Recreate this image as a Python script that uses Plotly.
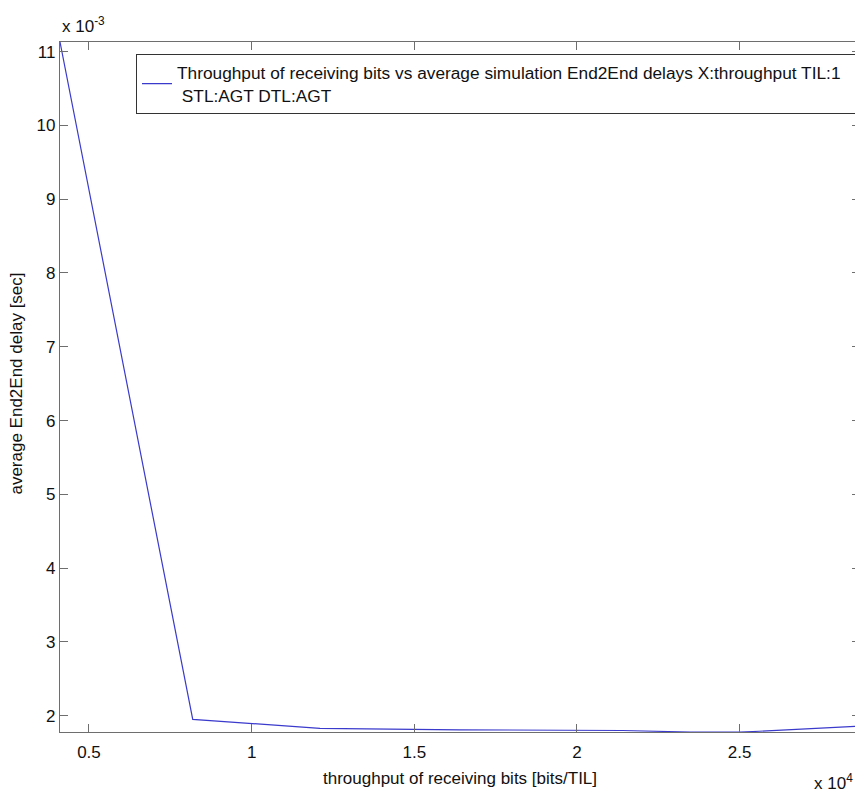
import plotly.graph_objects as go

# Data
throughput = [4110, 8190, 12100, 16400, 21400, 23500, 25000, 25600, 28700]  # bits/TIL
delay = [11.13e-3, 1.95e-3, 1.83e-3, 1.81e-3, 1.80e-3, 1.78e-3, 1.78e-3, 1.79e-3, 1.86e-3]  # sec

x_tickvals = [5000, 10000, 15000, 20000, 25000]
x_ticktext = ["0.5", "1", "1.5", "2", "2.5"]
y_tickvals = [2e-3, 3e-3, 4e-3, 5e-3, 6e-3, 7e-3, 8e-3, 9e-3, 10e-3, 11e-3]
y_ticktext = ["2", "3", "4", "5", "6", "7", "8", "9", "10", "11"]

x_title = "throughput of receiving bits [bits/TIL]"
y_title = "average End2End delay [sec]"
legend_name = ("Throughput of receiving bits vs average simulation End2End delays X:throughput TIL:1\u00a0\u00a0"
               "<br> STL:AGT DTL:AGT")

FONT = "Liberation Sans, Arial, sans-serif"
AX = "#6e6e6e"
TXT = dict(family=FONT, size=17, color="#111")

fig = go.Figure()
fig.add_trace(go.Scatter(
    x=throughput, y=delay, mode="lines", name=legend_name,
    line=dict(color="#3a3acc", width=1.2),
))

axis_common = dict(
    showgrid=False, zeroline=False, showline=True, linecolor=AX, linewidth=1.2,
    mirror="ticks", ticks="inside", ticklen=8, tickcolor=AX, tickwidth=1,
    tickfont=TXT, automargin=False,
)

# page body has an 8px margin, so the figure is shrunk by 8px to fit the window
fig.update_layout(
    width=855, height=789,
    margin=dict(l=52, r=3, t=34, b=65, autoexpand=False),
    paper_bgcolor="white", plot_bgcolor="white",
    font=TXT,
    showlegend=True,
    legend=dict(
        x=0.095, y=0.983, xanchor="left", yanchor="top",
        bgcolor="white", bordercolor="#333", borderwidth=1,
        font=dict(family=FONT, size=17.3, color="#111"),
    ),
    xaxis=dict(range=[4110, 28700], tickvals=x_tickvals, ticktext=x_ticktext,
               ticklabelstandoff=4, **axis_common),
    yaxis=dict(range=[1.78e-3, 11.13e-3], tickvals=y_tickvals, ticktext=y_ticktext, **axis_common),
    annotations=[
        dict(text="x 10<sup>-3</sup>", xref="paper", yref="paper", x=0, y=1,
             xanchor="left", yanchor="bottom", yshift=4, showarrow=False, font=TXT),
        dict(text="x 10<sup>4</sup>", xref="paper", yref="paper", x=0.994, y=0,
             xanchor="right", yanchor="top", yshift=-37, showarrow=False, font=TXT),
        dict(text=x_title, xref="paper", yref="paper", x=0.5, y=0,
             xanchor="center", yanchor="middle", yshift=-46, showarrow=False, font=TXT),
        dict(text=y_title, xref="paper", yref="paper", x=0, y=0.505, textangle=-90,
             xanchor="center", yanchor="middle", xshift=-43, showarrow=False, font=TXT),
    ],
)

fig.write_html("out.html")
